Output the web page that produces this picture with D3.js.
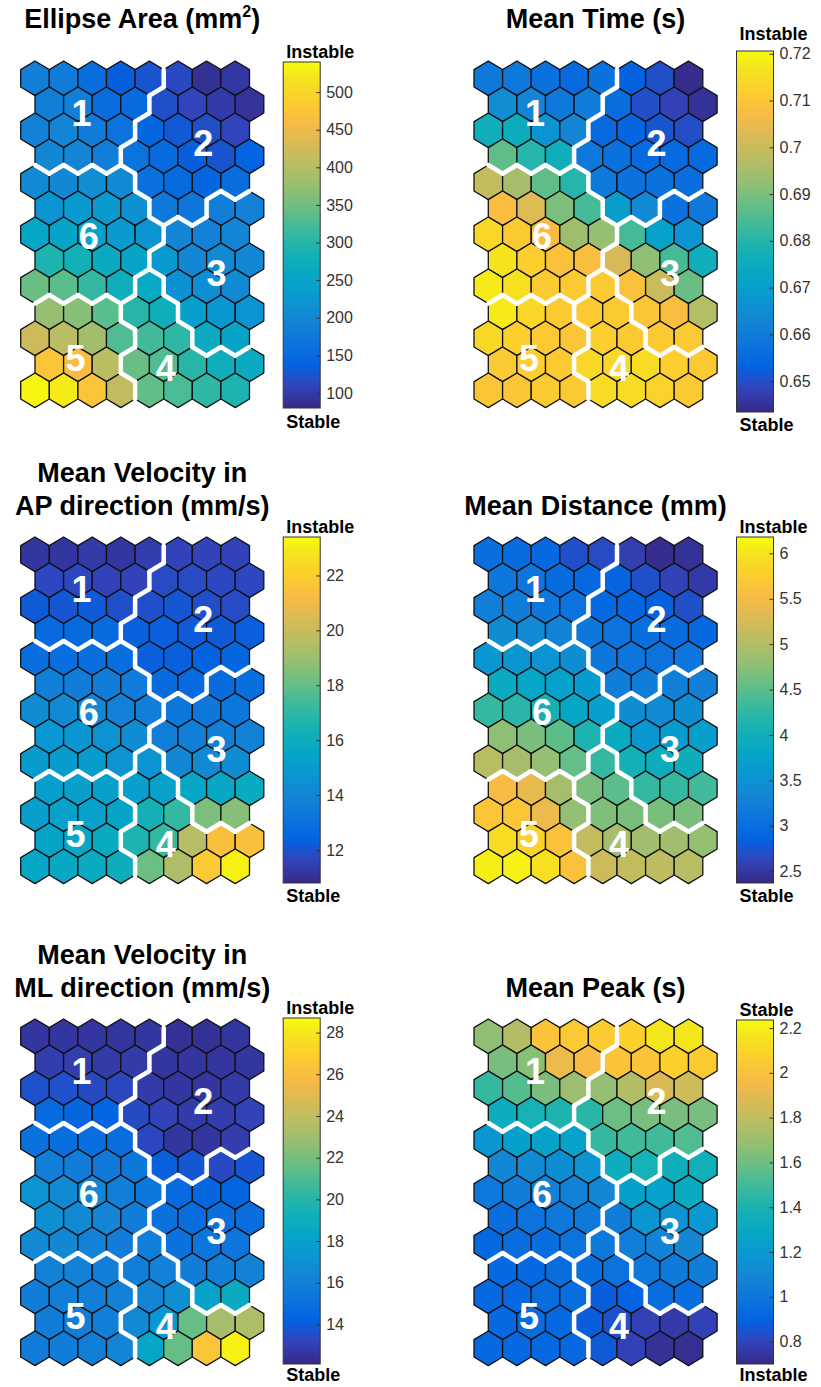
<!DOCTYPE html>
<html>
<head>
<meta charset="utf-8">
<script src="https://cdn.jsdelivr.net/npm/d3@7"></script>
<style>
  body { margin: 0; background: #fff; }
  text { font-family: "Liberation Sans", Arial, Helvetica, sans-serif; }
</style>
</head>
<body>
<div id="chart"></div>
<script>
// SOM: 13 rows x 8 columns, odd rows shifted right by half a hexagon
const clusters = [
    [1, 1, 1, 1, 1, 2, 2, 2],
    [1, 1, 1, 1, 2, 2, 2, 2],
    [1, 1, 1, 1, 2, 2, 2, 2],
    [1, 1, 1, 2, 2, 2, 2, 2],
    [6, 6, 6, 6, 2, 2, 2, 2],
    [6, 6, 6, 6, 2, 2, 3, 3],
    [6, 6, 6, 6, 6, 3, 3, 3],
    [6, 6, 6, 6, 3, 3, 3, 3],
    [6, 6, 6, 6, 4, 3, 3, 3],
    [5, 5, 5, 4, 4, 3, 3, 3],
    [5, 5, 5, 5, 4, 4, 3, 3],
    [5, 5, 5, 4, 4, 4, 4, 4],
    [5, 5, 5, 5, 4, 4, 4, 4]
];
// cluster label positions in grid units (column, row)
const clusterLabels = [
    { id: "1", gx: 1.63, gy: 1.33 },
    { id: "2", gx: 5.88, gy: 2.49 },
    { id: "3", gx: 6.35, gy: 7.49 },
    { id: "4", gx: 4.57, gy: 11.14 },
    { id: "5", gx: 1.42, gy: 10.76 },
    { id: "6", gx: 1.88, gy: 6.07 }
];

const ellipseArea = [
    [185, 180, 155, 135, 125, 115, 88, 95],
    [185, 185, 155, 150, 120, 110, 100, 92],
    [190, 195, 180, 165, 145, 130, 120, 110],
    [200, 195, 185, 165, 150, 135, 125, 140],
    [205, 200, 210, 205, 160, 150, 145, 155],
    [220, 230, 230, 215, 175, 170, 185, 190],
    [255, 250, 245, 230, 220, 195, 190, 195],
    [292, 280, 265, 250, 230, 200, 205, 200],
    [347, 335, 310, 275, 260, 215, 210, 205],
    [375, 365, 335, 300, 275, 240, 225, 220],
    [420, 405, 385, 330, 320, 305, 265, 250],
    [475, 460, 405, 345, 330, 300, 275, 265],
    [535, 525, 475, 410, 340, 325, 305, 290]
];
const meanTime = [
    [0.659, 0.659, 0.657, 0.655, 0.657, 0.653, 0.650, 0.644],
    [0.665, 0.663, 0.659, 0.660, 0.656, 0.650, 0.648, 0.645],
    [0.676, 0.675, 0.667, 0.663, 0.655, 0.654, 0.651, 0.650],
    [0.687, 0.680, 0.676, 0.659, 0.657, 0.655, 0.655, 0.655],
    [0.699, 0.695, 0.687, 0.680, 0.659, 0.657, 0.657, 0.656],
    [0.708, 0.703, 0.690, 0.684, 0.670, 0.664, 0.657, 0.659],
    [0.714, 0.711, 0.707, 0.694, 0.693, 0.684, 0.671, 0.667],
    [0.717, 0.712, 0.709, 0.708, 0.702, 0.692, 0.684, 0.676],
    [0.718, 0.716, 0.711, 0.711, 0.711, 0.709, 0.700, 0.688],
    [0.718, 0.714, 0.711, 0.711, 0.711, 0.710, 0.708, 0.697],
    [0.714, 0.712, 0.711, 0.710, 0.712, 0.711, 0.711, 0.711],
    [0.711, 0.712, 0.711, 0.714, 0.714, 0.715, 0.712, 0.711],
    [0.710, 0.710, 0.711, 0.711, 0.715, 0.715, 0.713, 0.711]
];
const velocityAP = [
    [11.2, 11.2, 11.3, 11.2, 11.4, 11.6, 11.6, 11.6],
    [11.7, 11.7, 11.6, 11.6, 11.8, 11.8, 11.7, 11.7],
    [12.2, 12.1, 12.2, 11.9, 11.9, 12.1, 11.9, 11.8],
    [12.7, 12.7, 12.7, 12.3, 12.3, 12.2, 12.2, 12.3],
    [12.9, 12.9, 12.9, 12.9, 12.3, 12.3, 12.4, 12.6],
    [13.7, 13.6, 13.6, 13.5, 12.7, 12.7, 12.8, 12.9],
    [14.3, 14.2, 14.1, 13.8, 13.7, 13.3, 13.3, 13.3],
    [14.8, 14.7, 14.6, 14.3, 13.7, 13.7, 13.7, 13.8],
    [15.0, 15.0, 15.0, 14.6, 14.6, 14.1, 14.2, 14.3],
    [15.1, 15.2, 15.2, 15.2, 15.3, 15.6, 15.7, 15.8],
    [15.2, 15.3, 15.3, 15.5, 16.3, 17.1, 18.4, 18.6],
    [15.5, 15.6, 15.8, 16.6, 17.1, 19.6, 21.4, 21.4],
    [15.6, 15.7, 15.8, 16.1, 18.1, 19.4, 21.8, 23.1]
];
const meanDistance = [
    [3.02, 2.98, 2.94, 2.71, 2.67, 2.56, 2.41, 2.45],
    [3.13, 3.09, 2.98, 2.94, 2.90, 2.71, 2.60, 2.52],
    [3.25, 3.21, 3.13, 3.06, 2.94, 2.90, 2.83, 2.71],
    [3.44, 3.40, 3.32, 3.13, 3.06, 3.02, 2.98, 2.94],
    [3.55, 3.55, 3.51, 3.44, 3.13, 3.09, 3.06, 3.09],
    [3.89, 3.82, 3.74, 3.63, 3.21, 3.21, 3.25, 3.25],
    [4.28, 4.20, 4.05, 3.82, 3.70, 3.44, 3.40, 3.44],
    [4.77, 4.66, 4.50, 4.12, 3.89, 3.55, 3.63, 3.70],
    [5.04, 4.92, 4.81, 4.54, 4.28, 4.05, 3.97, 3.97],
    [5.53, 5.38, 4.92, 4.66, 4.50, 4.28, 4.28, 4.35],
    [5.65, 5.65, 5.42, 4.81, 4.69, 4.66, 4.66, 4.66],
    [5.91, 5.80, 5.61, 5.11, 4.92, 4.88, 4.88, 4.81],
    [6.07, 6.10, 5.95, 5.61, 5.19, 5.11, 5.08, 5.04]
];
const velocityML = [
    [12.6, 12.6, 12.6, 12.6, 12.6, 12.4, 12.4, 12.6],
    [12.9, 12.9, 12.8, 12.8, 12.6, 12.6, 12.6, 12.6],
    [13.6, 13.6, 13.4, 13.3, 12.8, 12.6, 12.6, 12.8],
    [14.6, 14.4, 14.3, 13.4, 13.1, 12.8, 12.9, 13.1],
    [15.1, 14.9, 14.9, 14.8, 13.3, 12.6, 12.6, 12.9],
    [15.9, 15.8, 15.6, 15.4, 14.1, 13.8, 13.4, 13.8],
    [17.1, 16.6, 16.3, 15.9, 15.4, 14.6, 14.4, 14.3],
    [16.9, 16.6, 16.3, 15.8, 15.1, 14.8, 14.9, 14.8],
    [16.6, 16.4, 16.1, 15.8, 15.9, 15.1, 15.3, 15.3],
    [16.1, 16.1, 15.9, 15.9, 16.1, 15.8, 15.9, 16.1],
    [15.8, 15.9, 15.9, 16.1, 16.3, 16.8, 18.1, 18.7],
    [15.8, 15.8, 15.9, 16.6, 17.3, 21.6, 23.2, 23.4],
    [15.8, 15.8, 15.9, 16.3, 18.4, 21.6, 26.4, 28.4]
];
const meanPeak = [
    [1.67, 1.76, 2.01, 2.04, 2.05, 2.07, 2.17, 2.17],
    [1.62, 1.65, 1.93, 1.97, 2.01, 2.01, 2.07, 2.05],
    [1.47, 1.54, 1.62, 1.70, 1.68, 1.76, 1.87, 1.84],
    [1.33, 1.38, 1.41, 1.44, 1.59, 1.62, 1.62, 1.62],
    [1.18, 1.24, 1.25, 1.25, 1.47, 1.50, 1.50, 1.53],
    [1.10, 1.11, 1.13, 1.16, 1.33, 1.38, 1.35, 1.36],
    [1.01, 1.04, 1.07, 1.07, 1.10, 1.24, 1.25, 1.31],
    [0.95, 0.98, 1.01, 1.01, 1.04, 1.18, 1.16, 1.19],
    [0.93, 0.95, 0.96, 0.98, 1.01, 1.05, 1.08, 1.10],
    [0.93, 0.93, 0.95, 0.96, 0.98, 1.01, 1.02, 1.04],
    [0.93, 0.93, 0.95, 0.95, 0.88, 0.90, 0.95, 0.96],
    [0.93, 0.95, 0.93, 0.88, 0.84, 0.79, 0.76, 0.79],
    [0.93, 0.93, 0.93, 0.93, 0.87, 0.79, 0.73, 0.72]
];

// colour-bar ticks
const areaTicks = [100, 150, 200, 250, 300, 350, 400, 450, 500];
const timeTicks = [0.65, 0.66, 0.67, 0.68, 0.69, 0.7, 0.71, 0.72];
const apTicks = [12, 14, 16, 18, 20, 22];
const distTicks = [2.5, 3, 3.5, 4, 4.5, 5, 5.5, 6];
const mlTicks = [14, 16, 18, 20, 22, 24, 26, 28];
const peakTicks = [0.8, 1, 1.2, 1.4, 1.6, 1.8, 2, 2.2];

const panels = [
    { title: ["Ellipse Area (mm²)"], values: ellipseArea, range: [80, 540], ticks: areaTicks,
      top: "Instable", bottom: "Stable", col: 0, row: 0 },
    { title: ["Mean Time (s)"], values: meanTime, range: [0.6434, 0.7206], ticks: timeTicks,
      top: "Instable", bottom: "Stable", col: 1, row: 0 },
    { title: ["Mean Velocity in", "AP direction (mm/s)"], values: velocityAP, range: [10.8, 23.4], ticks: apTicks,
      top: "Instable", bottom: "Stable", col: 0, row: 1 },
    { title: ["Mean Distance (mm)"], values: meanDistance, range: [2.37, 6.18], ticks: distTicks,
      top: "Instable", bottom: "Stable", col: 1, row: 1 },
    { title: ["Mean Velocity in", "ML direction (mm/s)"], values: velocityML, range: [12.1, 28.7], ticks: mlTicks,
      top: "Instable", bottom: "Stable", col: 0, row: 2 },
    { title: ["Mean Peak (s)"], values: meanPeak, range: [0.70, 2.236], ticks: peakTicks,
      top: "Stable", bottom: "Instable", col: 1, row: 2 }
];

// parula colormap
const parula = ["#352a87", "#3243ba", "#0363e1", "#0d75dc", "#1485d4", "#0998d1", "#06a7c6",
    "#15b1b4", "#38b99e", "#65be86", "#92bf73", "#b7bd64", "#d9ba56", "#f8bb44",
    "#fcce2e", "#f5e41d", "#f9fb0e"];
const parulaPos = [0, 4, 8, 12, 16, 20, 24, 28, 32, 36, 40, 44, 48, 52, 56, 60, 63].map(i => i / 63);

// layout
const width = 821, height = 1387;
const colLeft = [20.7, 474];
const rowTop = [61, 537, 1019];
const barBox = [[62, 408], [51, 412], [537, 883], [537, 883], [1018, 1364], [1020, 1364]];
const topLabelY = [58, 40, 533, 533, 1014, 1016];
const bottomLabelY = [428, 431, 902, 902, 1381, 1381];
const titleBase = [[28], [28], [482, 515], [515], [964, 997], [997]];
const colStep = 28.6, rowStep = 26, hexH = rowStep / 1.5;
const barW = 37;

const svg = d3.select("#chart").append("svg")
    .attr("width", width).attr("height", height)
    .style("background", "#fff");

const defs = svg.append("defs");
const grad = defs.append("linearGradient").attr("id", "parula")
    .attr("x1", 0).attr("y1", 1).attr("x2", 0).attr("y2", 0);
grad.selectAll("stop").data(parula).enter().append("stop")
    .attr("offset", (d, i) => parulaPos[i])
    .attr("stop-color", d => d);

const hexPts = [[0, -hexH], [colStep / 2, -hexH / 2], [colStep / 2, hexH / 2],
    [0, hexH], [-colStep / 2, hexH / 2], [-colStep / 2, -hexH / 2]];

function neighbor(r, c, k) {
    const odd = r % 2 === 1;
    switch (k) {
        case 0: return [r - 1, odd ? c + 1 : c];
        case 1: return [r, c + 1];
        case 2: return [r + 1, odd ? c + 1 : c];
        case 3: return [r + 1, odd ? c : c - 1];
        case 4: return [r, c - 1];
        default: return [r - 1, odd ? c : c - 1];
    }
}

const nodes = [];
clusters.forEach((row, r) => row.forEach((cl, c) => nodes.push({ r, c, cl })));

// cluster border edges
const borders = [];
nodes.forEach(n => {
    for (let k = 0; k < 6; k++) {
        const [nr, nc] = neighbor(n.r, n.c, k);
        if (nr < 0 || nr >= clusters.length || nc < 0 || nc >= 8) continue;
        if (clusters[nr][nc] !== n.cl && nr * 8 + nc > n.r * 8 + n.c) {
            borders.push({ r: n.r, c: n.c, k });
        }
    }
});

panels.forEach((p, i) => {
    const left = colLeft[p.col], top = rowTop[p.row];
    const g = svg.append("g");
    const xs = d3.scaleLinear().domain([0, 1]).range([left + colStep / 2, left + colStep * 1.5]);
    const ys = d3.scaleLinear().domain([0, 1]).range([top + hexH, top + hexH + rowStep]);
    const color = d3.scaleLinear()
        .domain(parulaPos.map(t => p.range[0] + t * (p.range[1] - p.range[0])))
        .range(parula).interpolate(d3.interpolateRgb).clamp(true);
    const cx = n => xs(n.c + (n.r % 2) * 0.5);
    const cy = n => ys(n.r);

    // title
    const mapMid = left + colStep * 4.25;
    p.title.forEach((line, j) => {
        const t = g.append("text")
            .attr("x", mapMid).attr("y", titleBase[i][j])
            .attr("text-anchor", "middle")
            .style("font-size", "27px").style("font-weight", "bold").attr("fill", "#000");
        if (line.includes("²")) {
            const parts = line.split("²");
            t.append("tspan").text(parts[0]);
            t.append("tspan").text("2").style("font-size", "16px").attr("dy", -11);
            t.append("tspan").text(parts[1]).attr("dy", 11);
        } else {
            t.text(line);
        }
    });

    // hexagons
    g.selectAll("path.hex").data(nodes).enter().append("path")
        .attr("class", "hex")
        .attr("d", n => "M" + hexPts.map(v => [cx(n) + v[0], cy(n) + v[1]].join(",")).join("L") + "Z")
        .attr("fill", n => color(p.values[n.r][n.c]))
        .attr("stroke", "#111").attr("stroke-width", 1.3)
        .attr("stroke-linejoin", "round");

    // cluster borders
    g.selectAll("line.border").data(borders).enter().append("line")
        .attr("class", "border")
        .attr("x1", b => cx(b) + hexPts[b.k][0])
        .attr("y1", b => cy(b) + hexPts[b.k][1])
        .attr("x2", b => cx(b) + hexPts[(b.k + 1) % 6][0])
        .attr("y2", b => cy(b) + hexPts[(b.k + 1) % 6][1])
        .attr("stroke", "#fff").attr("stroke-width", 4.5)
        .attr("stroke-linecap", "round");

    // cluster numbers
    g.selectAll("text.num").data(clusterLabels).enter().append("text")
        .attr("class", "num")
        .attr("x", d => xs(d.gx)).attr("y", d => ys(d.gy))
        .attr("dy", "0.36em")
        .attr("text-anchor", "middle")
        .style("font-size", "36px").style("font-weight", "bold")
        .attr("fill", "#fff")
        .text(d => d.id);

    // colour bar
    const bx = left + 262.5;
    const [bt, bb] = barBox[i];
    const bar = svg.append("g");
    bar.append("rect")
        .attr("x", bx).attr("y", bt).attr("width", barW).attr("height", bb - bt)
        .attr("fill", "url(#parula)")
        .attr("stroke", "#333").attr("stroke-width", 1);
    const yBar = d3.scaleLinear().domain(p.range).range([bb, bt]);
    const axis = bar.append("g")
        .attr("transform", `translate(${bx + barW},0)`)
        .call(d3.axisRight(yBar).tickValues(p.ticks).tickSize(-4).tickPadding(6)
            .tickFormat(d3.format("~g")));
    axis.select(".domain").remove();
    axis.selectAll(".tick line").attr("stroke", "#333");
    axis.selectAll(".tick text")
        .attr("fill", "#333")
        .style("font-size", "16px")
        .style("font-family", "'Liberation Sans', Arial, sans-serif");

    bar.append("text")
        .attr("x", bx + 3).attr("y", topLabelY[i])
        .style("font-size", "18px").style("font-weight", "bold")
        .text(p.top);
    bar.append("text")
        .attr("x", bx + 3).attr("y", bottomLabelY[i])
        .style("font-size", "18px").style("font-weight", "bold")
        .text(p.bottom);
});
</script>
</body>
</html>
